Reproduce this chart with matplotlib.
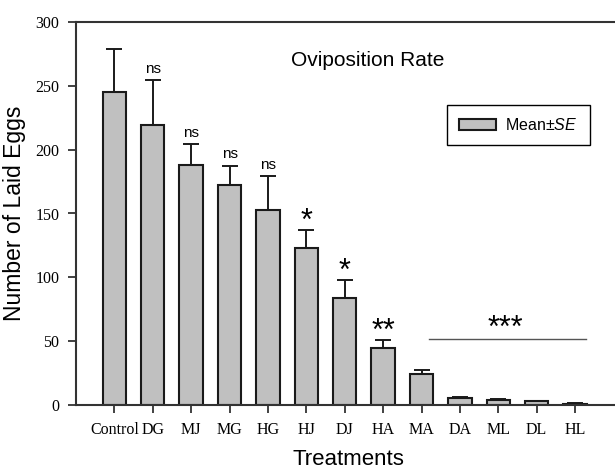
import matplotlib
matplotlib.use('Agg')
import matplotlib.pyplot as plt
import numpy as np

plt.rcParams['mathtext.fontset'] = 'custom'
plt.rcParams['mathtext.it'] = 'Liberation Sans:italic'
plt.rcParams['mathtext.rm'] = 'Liberation Sans'

# data
treatments = ['Control', 'DG', 'MJ', 'MG', 'HG', 'HJ', 'DJ', 'HA', 'MA', 'DA', 'ML', 'DL', 'HL']
means = [245, 219.5, 188, 172.5, 153, 122.7, 83.8, 45, 24, 5.7, 3.9, 2.9, 1.0]
se = [34, 35, 16.5, 15, 26.5, 14.5, 14, 6.2, 3.8, 0.9, 1.0, 0.6, 0.3]
sig = ['', 'ns', 'ns', 'ns', 'ns', '*', '*', '**', '', '', '', '', '']
group_label = '***'
group_start, group_end, group_y = 8.2, 12.28, 52

x = np.arange(len(treatments))

fig = plt.figure(figsize=(6.15, 4.7), dpi=100)
ax = fig.add_axes([76/615, 65/470, 544/615, 383/470])

bars = ax.bar(x, means, 0.61, color='#c0c0c0', edgecolor='#1a1a1a', linewidth=1.5,
              label='Mean$\\pm$$\\it{SE}$', zorder=2)
ax.errorbar(x, means, yerr=[np.zeros(len(se)), se], fmt='none', ecolor='#1a1a1a',
            elinewidth=1.4, capsize=5.5, capthick=1.4, zorder=1)

# significance marks
for i, s in enumerate(sig):
    if not s:
        continue
    top = means[i] + se[i]
    if s == 'ns':
        ax.annotate(s, (x[i], top), xytext=(0, 3), textcoords='offset points',
                    ha='center', va='bottom', fontsize=11, family='Liberation Sans')
    else:
        ax.annotate(s, (x[i], top), xytext=(0, -5), textcoords='offset points',
                    ha='center', va='bottom', fontsize=22, family='Liberation Sans')

ax.plot([group_start, group_end], [group_y, group_y], color='#555555', lw=1)
ax.text((group_start + group_end) / 2 - 0.05, group_y - 4, group_label, ha='center',
        va='bottom', fontsize=22, family='Liberation Sans')

ax.text(6.6, 270, 'Oviposition Rate', ha='center', va='center', fontsize=15,
        family='Liberation Sans')

ax.set_xlim(-1, 13.17)
ax.set_ylim(0, 300)
ax.set_yticks([0, 50, 100, 150, 200, 250, 300])
ax.set_xticks(x)
ax.set_xticklabels(treatments)
for lab in ax.get_xticklabels() + ax.get_yticklabels():
    lab.set_family('Liberation Serif')
    lab.set_fontsize(11.5)
ax.tick_params(direction='out', length=6, width=1.3, color='#333333', pad=6)

for sp in ['left', 'bottom', 'top']:
    ax.spines[sp].set_linewidth(1.5)
    ax.spines[sp].set_color('#333333')
ax.spines['right'].set_visible(False)

ax.set_ylabel('Number of Laid Eggs', fontsize=16.5, family='Liberation Sans', labelpad=7)
ax.set_xlabel('Treatments', fontsize=16, family='Liberation Sans', labelpad=8)

leg = ax.legend(loc='upper left', bbox_to_anchor=(0.682, 0.783), borderaxespad=0,
                fancybox=False, edgecolor='black', framealpha=1,
                prop={'family': 'Liberation Sans', 'size': 11.5},
                handlelength=2.3, handleheight=0.7, borderpad=0.75, handletextpad=0.6)
leg.get_frame().set_linewidth(1.0)

plt.savefig('out.png', dpi=100)
